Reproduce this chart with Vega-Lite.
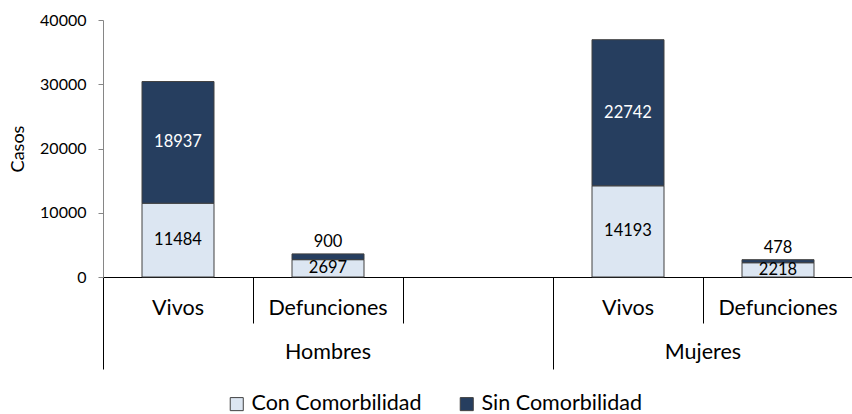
{
  "$schema": "https://vega.github.io/schema/vega-lite/v6.json",
  "width": 750,
  "height": 257,
  "autosize": {"type": "none"},
  "padding": {"left": 103, "top": 20, "right": 0, "bottom": 137},
  "config": {"view": {"stroke": null}, "font": "Lato", "text": {"font": "Lato"}},
  "datasets": {
    "casos": [
      {"grupo": "Hombres", "cat": "Vivos", "x": "H-Vivos", "tipo": "Con Comorbilidad", "orden": 1, "valor": 11484},
      {"grupo": "Hombres", "cat": "Vivos", "x": "H-Vivos", "tipo": "Sin Comorbilidad", "orden": 2, "valor": 18937},
      {"grupo": "Hombres", "cat": "Defunciones", "x": "H-Def", "tipo": "Con Comorbilidad", "orden": 1, "valor": 2697},
      {"grupo": "Hombres", "cat": "Defunciones", "x": "H-Def", "tipo": "Sin Comorbilidad", "orden": 2, "valor": 900},
      {"grupo": "Mujeres", "cat": "Vivos", "x": "M-Vivos", "tipo": "Con Comorbilidad", "orden": 1, "valor": 14193},
      {"grupo": "Mujeres", "cat": "Vivos", "x": "M-Vivos", "tipo": "Sin Comorbilidad", "orden": 2, "valor": 22742},
      {"grupo": "Mujeres", "cat": "Defunciones", "x": "M-Def", "tipo": "Con Comorbilidad", "orden": 1, "valor": 2218},
      {"grupo": "Mujeres", "cat": "Defunciones", "x": "M-Def", "tipo": "Sin Comorbilidad", "orden": 2, "valor": 478}
    ],
    "grupos": [
      {"grupo": "Hombres", "x": "H-Def"},
      {"grupo": "Mujeres", "x": "M-Vivos"}
    ]
  },
  "layer": [
    {
      "data": {"name": "casos"},
      "transform": [
        {"stack": "valor", "groupby": ["x"], "sort": [{"field": "orden"}], "as": ["y0", "y1"]}
      ],
      "mark": {"type": "bar", "stroke": "#404040", "strokeWidth": 1, "width": 72},
      "encoding": {
        "x": {
          "field": "x", "type": "nominal",
          "scale": {"domain": ["H-Vivos", "H-Def", "H-blank", "M-Vivos", "M-Def"], "paddingInner": 0, "paddingOuter": 0},
          "axis": {
            "title": null,
            "bandPosition": 0,
            "labelAngle": 0,
            "labelExpr": "indexof(datum.value,'Vivos')>=0 ? 'Vivos' : (indexof(datum.value,'Def')>=0 ? 'Defunciones' : '')",
            "labelFontSize": 21.5,
            "labelColor": "black",
            "labelBaseline": "top",
            "labelPadding": {"condition": {"test": "datum.value=='H-Vivos' || datum.value=='M-Vivos'", "value": -72}, "value": -26},
            "tickSize": {"condition": {"test": "datum.value=='H-Vivos' || datum.value=='M-Vivos'", "value": 92}, "value": 46},
            "tickColor": "black",
            "tickWidth": 1,
            "domainColor": "black",
            "domainWidth": 1,
            "grid": false
          }
        },
        "y": {
          "field": "y0", "type": "quantitative",
          "scale": {"domain": [0, 40000], "nice": false},
          "axis": {
            "title": "Casos",
            "titleFontSize": 18,
            "titleFontWeight": "normal",
            "titleColor": "black",
            "titlePadding": 12,
            "values": [0, 10000, 20000, 30000, 40000],
            "format": "d",
            "labelFontSize": 16,
            "labelColor": "black",
            "labelPadding": 12,
            "tickSize": 5,
            "tickColor": "#868686",
            "domainColor": "#868686",
            "grid": false
          }
        },
        "y2": {"field": "y1"},
        "color": {
          "field": "tipo", "type": "nominal",
          "scale": {"domain": ["Con Comorbilidad", "Sin Comorbilidad"], "range": ["#DCE6F2", "#263E5F"]},
          "legend": {
            "title": null,
            "orient": "none",
            "legendX": 123,
            "legendY": 373,
            "direction": "horizontal",
            "symbolType": "square",
            "symbolSize": 170,
            "symbolStrokeColor": "#404040",
            "symbolStrokeWidth": 1,
            "labelFontSize": 21.5,
            "labelLimit": 400,
            "labelColor": "black",
            "labelOffset": 4,
            "columnPadding": 34
          }
        }
      }
    },
    {
      "data": {"name": "casos"},
      "transform": [
        {"stack": "valor", "groupby": ["x"], "sort": [{"field": "orden"}], "as": ["y0", "y1"]},
        {"calculate": "(datum.y0 + datum.y1) / 2", "as": "ymid"},
        {"filter": "!(datum.cat == 'Defunciones' && datum.tipo == 'Sin Comorbilidad')"}
      ],
      "mark": {"type": "text", "fontSize": 16.5, "baseline": "middle", "align": "center"},
      "encoding": {
        "x": {"field": "x", "type": "nominal"},
        "y": {"field": "ymid", "type": "quantitative"},
        "text": {"field": "valor", "type": "quantitative", "format": "d"},
        "color": {"condition": {"test": "datum.tipo == 'Sin Comorbilidad'", "value": "white"}, "value": "black"}
      }
    },
    {
      "data": {"name": "casos"},
      "transform": [
        {"stack": "valor", "groupby": ["x"], "sort": [{"field": "orden"}], "as": ["y0", "y1"]},
        {"filter": "datum.cat == 'Defunciones' && datum.tipo == 'Sin Comorbilidad'"}
      ],
      "mark": {"type": "text", "fontSize": 16.5, "baseline": "middle", "align": "center", "dy": -12, "color": "black"},
      "encoding": {
        "x": {"field": "x", "type": "nominal"},
        "y": {"field": "y1", "type": "quantitative"},
        "text": {"field": "valor", "type": "quantitative", "format": "d"}
      }
    },
    {
      "data": {"name": "grupos"},
      "transform": [{"filter": "datum.grupo == 'Hombres'"}],
      "mark": {"type": "text", "fontSize": 21.5, "baseline": "middle", "align": "center", "color": "black"},
      "encoding": {
        "x": {"field": "x", "type": "nominal", "bandPosition": 0.5},
        "y": {"datum": -11800, "type": "quantitative"},
        "text": {"field": "grupo"}
      }
    },
    {
      "data": {"name": "grupos"},
      "transform": [{"filter": "datum.grupo == 'Mujeres'"}],
      "mark": {"type": "text", "fontSize": 21.5, "baseline": "middle", "align": "center", "color": "black"},
      "encoding": {
        "x": {"field": "x", "type": "nominal", "bandPosition": 1},
        "y": {"datum": -11800, "type": "quantitative"},
        "text": {"field": "grupo"}
      }
    }
  ]
}
